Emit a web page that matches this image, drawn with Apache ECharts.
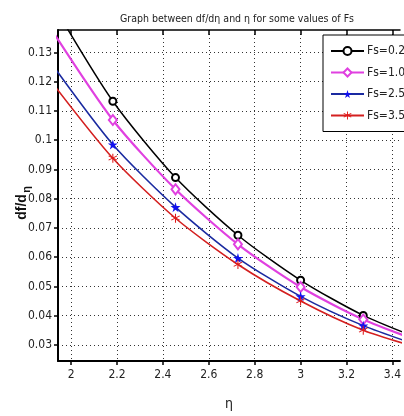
<!DOCTYPE html>
<html>
<head>
<meta charset="utf-8">
<script src="https://cdn.jsdelivr.net/npm/echarts@6/dist/echarts.min.js"></script>
<style>
  html, body { margin: 0; padding: 0; background: #fff; }
  #chart { width: 404px; height: 416px; }
</style>
</head>
<body>
<div id="chart"></div>
<script>
// eta sample positions (markers) and df/deta profiles for each Fs
const etaValues = [1.909, 2.182, 2.455, 2.727, 3.0, 3.273, 3.545];
const fs02 = [0.1480, 0.1133, 0.0872, 0.0675, 0.0521, 0.0401, 0.0313];
const fs10 = [0.1385, 0.1069, 0.0832, 0.0644, 0.0498, 0.0387, 0.0305];
const fs25 = [0.1268, 0.0985, 0.0771, 0.0597, 0.0466, 0.0366, 0.0290];
const fs35 = [0.1205, 0.0938, 0.0733, 0.0575, 0.0450, 0.0350, 0.0283];

const seriesNames = ['Fs=0.2', 'Fs=1.0', 'Fs=2.5', 'Fs=3.5'];
const xTicks = [2, 2.2, 2.4, 2.6, 2.8, 3, 3.2, 3.4];
const yTicks = [0.03, 0.04, 0.05, 0.06, 0.07, 0.08, 0.09, 0.1, 0.11, 0.12, 0.13];

const FONT = "'DejaVu Sans Condensed', 'Liberation Sans Narrow', 'Liberation Sans', sans-serif";
const X_MIN = 1.9431, X_MAX = 3.4329;
const Y_MIN = 0.02451, Y_MAX = 0.13765;

const starPath = 'path://M50,0 L61,35 L98,35 L68,57 L79,91 L50,70 L21,91 L32,57 L2,35 L39,35 Z';
const asteriskPath = 'path://M45,0 H55 V38 L88,19 L93,28 L60,47 L93,66 L88,75 L55,56 V100 H45 V56 L12,75 L7,66 L40,47 L7,28 L12,19 L45,38 Z';

function pairs(vals) {
  return etaValues.map((x, i) => [x, vals[i]]);
}

const chart = echarts.init(document.getElementById('chart'), null, { renderer: 'canvas' });

const option = {
  backgroundColor: '#fff',
  animation: false,
  title: {
    text: 'Graph between df/d\u03b7 and \u03b7 for some values of Fs',
    left: 232,
    top: 9,
    textAlign: 'center',
    textStyle: { fontFamily: FONT, fontSize: 10.5, fontWeight: 'normal', color: '#222' }
  },
  legend: {
    orient: 'vertical',
    left: 323,
    top: 35,
    data: seriesNames,
    itemWidth: 33,
    itemHeight: 10,
    itemGap: 9.5,
    padding: [10, 6, 10, 7],
    backgroundColor: '#fff',
    borderColor: '#000',
    borderWidth: 1,
    borderRadius: 0,
    textStyle: { fontFamily: FONT, fontSize: 12, color: '#222', padding: [0, 0, 0, -2] }
  },
  grid: { left: 58, top: 30, right: -2, bottom: 46, containLabel: false },
  xAxis: [
    {
      type: 'value',
      min: X_MIN,
      max: X_MAX,
      position: 'bottom',
      name: '\u03b7',
      nameLocation: 'middle',
      nameGap: 36,
      nameTextStyle: { fontFamily: FONT, fontSize: 14, color: '#222' },
      axisLine: { show: true, onZero: false, lineStyle: { color: '#000', width: 2 } },
      axisTick: { show: true, inside: false, length: 4, customValues: xTicks, lineStyle: { color: '#000', width: 1.5 } },
      axisLabel: {
        customValues: xTicks,
        margin: 8,
        fontFamily: FONT,
        fontSize: 12,
        color: '#222',
        formatter: v => String(+v.toFixed(1))
      },
      splitLine: { show: true, lineStyle: { color: '#333', width: 1, type: [1, 3] } }
    },
    {
      type: 'value',
      min: X_MIN,
      max: X_MAX,
      position: 'top',
      axisLine: { show: true, onZero: false, lineStyle: { color: '#000', width: 1.5 } },
      axisTick: { show: true, inside: true, length: 5, customValues: xTicks, lineStyle: { color: '#000', width: 1.5 } },
      axisLabel: { show: false },
      splitLine: { show: false }
    }
  ],
  yAxis: {
    type: 'value',
    min: Y_MIN,
    max: Y_MAX,
    axisLine: { show: true, onZero: false, lineStyle: { color: '#000', width: 2 } },
    axisTick: { show: true, inside: false, length: 4, customValues: yTicks, lineStyle: { color: '#000', width: 1.5 } },
    axisLabel: {
      customValues: yTicks,
      margin: 6,
      fontFamily: FONT,
      fontSize: 12,
      color: '#222',
      formatter: v => String(+v.toFixed(2))
    },
    splitLine: { show: true, lineStyle: { color: '#333', width: 1, type: [1, 3] } }
  },
  graphic: [
    {
      type: 'group',
      x: 22,
      y: 207,
      rotation: Math.PI / 2,
      children: [
        {
          type: 'text',
          x: 0,
          y: 0,
          style: {
            text: 'df/d',
            font: "bold 14px 'Liberation Sans', Arial, sans-serif",
            fill: '#111',
            align: 'center',
            verticalAlign: 'middle'
          }
        },
        {
          type: 'text',
          x: 17.5,
          y: 5,
          style: {
            text: '\u03b7',
            font: "bold 11px 'Liberation Sans', Arial, sans-serif",
            fill: '#111',
            align: 'center',
            verticalAlign: 'middle'
          }
        }
      ]
    }
  ],
  series: [
    {
      name: seriesNames[0],
      type: 'line',
      data: pairs(fs02),
      smooth: 0.25,
      clip: true,
      symbol: 'emptyCircle',
      symbolSize: 7,
      color: '#000',
      lineStyle: { color: '#000', width: 1.5 },
      itemStyle: { color: '#000', borderWidth: 1.5 }
    },
    {
      name: seriesNames[1],
      type: 'line',
      data: pairs(fs10),
      smooth: 0.25,
      clip: true,
      symbol: 'emptyDiamond',
      symbolSize: [8, 10],
      color: '#e040e0',
      lineStyle: { color: '#e040e0', width: 2.2 },
      itemStyle: { color: '#e040e0', borderWidth: 2 }
    },
    {
      name: seriesNames[2],
      type: 'line',
      data: pairs(fs25),
      smooth: 0.25,
      clip: true,
      symbol: starPath,
      symbolSize: 10,
      color: '#1010ee',
      lineStyle: { color: '#1a2aa0', width: 1.6 },
      itemStyle: { color: '#1010ee' }
    },
    {
      name: seriesNames[3],
      type: 'line',
      data: pairs(fs35),
      smooth: 0.25,
      clip: true,
      symbol: asteriskPath,
      symbolSize: 9,
      color: '#e01818',
      lineStyle: { color: '#d42020', width: 1.6 },
      itemStyle: { color: '#e01818' }
    }
  ]
};

chart.setOption(option);
</script>
</body>
</html>
